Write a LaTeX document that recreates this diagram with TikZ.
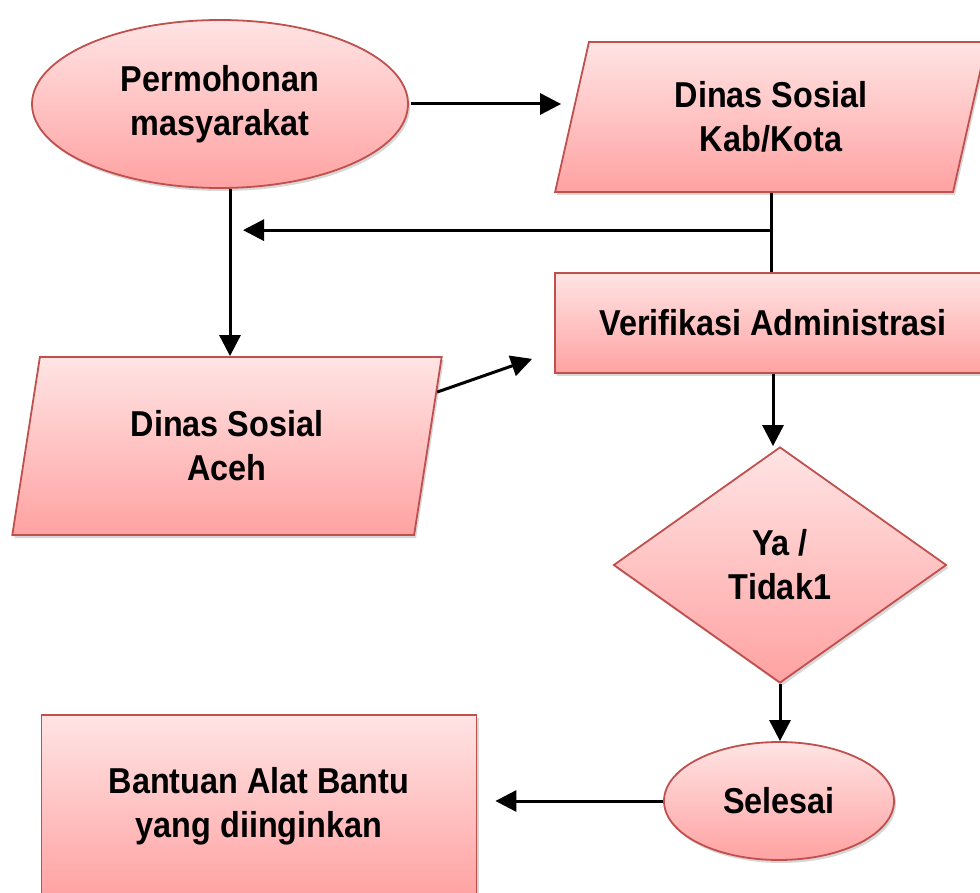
\documentclass[tikz,border=0pt]{standalone}
\usepackage{fontspec}
\setmainfont[FakeStretch=0.9]{Liberation Sans}
\usepackage{tikz}
\usetikzlibrary{shapes.geometric, arrows.meta, shadows, calc}
\definecolor{pinktop}{HTML}{FFE4E4}
\definecolor{pinkbot}{HTML}{FFA2A2}
\definecolor{redline}{HTML}{C0504D}
\colorlet{shadowgrey}{black!45}

\begin{document}
\begin{tikzpicture}[x=1pt, y=-1pt,
    box/.style={draw=redline, line width=1.8pt, top color=pinktop, bottom color=pinkbot,
      drop shadow={shadow xshift=2pt, shadow yshift=-3pt, opacity=0.35, fill=shadowgrey},
      align=center, inner sep=0pt, font=\bfseries\fontsize{36}{44}\selectfont},
    startend/.style={box, ellipse},
    iobox/.style={box, trapezium, trapezium stretches=true},
    procbox/.style={box, rectangle},
    choice/.style={box, diamond},
    flow/.style={line width=3pt, -{Triangle[length=21pt, width=21pt]}},
    joinline/.style={line width=3pt}]
  \useasboundingbox (0,0) rectangle (980,893);
  \clip (0,0) rectangle (980,893);

  % shapes
  \node[startend, minimum width=376pt, minimum height=168pt] (req) at (220,104) {Permohonan\\masyarakat};
  \node[iobox, minimum width=433pt, minimum height=150pt,
        trapezium left angle=75.8, trapezium right angle=104.2] (kab) at (771,117) {Dinas Sosial\\Kab/Kota};
  \node[procbox, minimum width=436pt, minimum height=100pt] (verif) at (773,323) {Verifikasi Administrasi};
  \node[iobox, minimum width=430pt, minimum height=178pt,
        trapezium left angle=78.6, trapezium right angle=101.4] (aceh) at (227,446) {Dinas Sosial\\Aceh};
  \node[choice, minimum width=333pt, minimum height=236pt] (dec) at (780,565) {Ya /\\Tidak1};
  \node[startend, minimum width=230pt, minimum height=118pt] (done) at (779,801) {Selesai};
  \node[procbox, minimum width=435pt, minimum height=182pt] (aid) at (259,806) {Bantuan Alat Bantu\\yang diinginkan};

  % free ends
  \coordinate (branch) at ($(kab.south)!0.47!(kab.south |- verif.north)$);
  \coordinate (backend) at (243,230);
  \coordinate (verifin) at ([xshift=-22pt, yshift=15pt]verif.south west);

  % connectors
  \draw[flow, shorten <=2pt, shorten >=10pt] (req.east) -- (req.east -| kab.west);
  \draw[joinline] (kab.south) -- (kab.south |- verif.north);
  \draw[flow] (branch) -- (backend |- branch);
  \draw[flow] ([xshift=10pt]req.south) -- ([xshift=10pt]req.south |- aceh.north);
  \draw[flow] ($(aceh.top right corner)!0.2!(aceh.bottom right corner)$) -- (verifin);
  \draw[flow] (verif.south) -- (verif.south |- dec.north);
  \draw[flow] (dec.south) -- (dec.south |- done.north);
  \draw[flow, shorten >=18pt] (done.west) -- (done.west -| aid.east);
\end{tikzpicture}
\end{document}
